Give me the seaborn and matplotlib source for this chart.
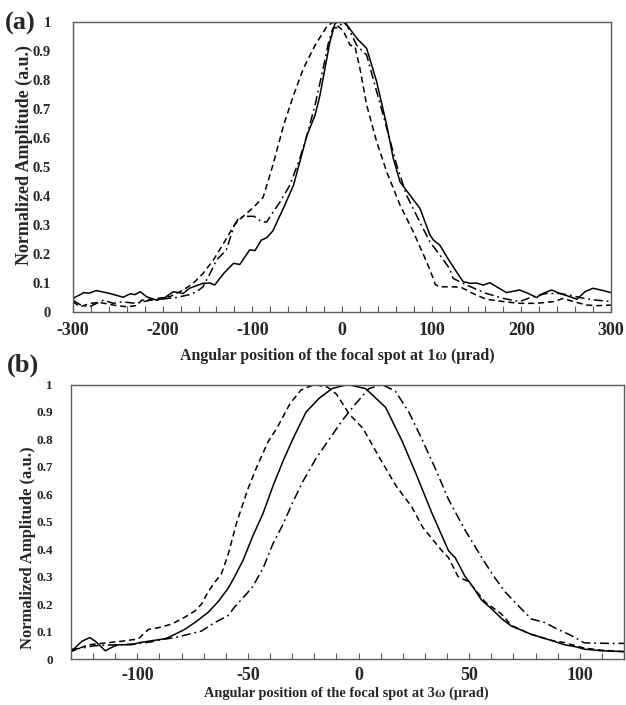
import numpy as np
import pandas as pd
import matplotlib
matplotlib.use("Agg")
import matplotlib.pyplot as plt
import seaborn as sns
from matplotlib.ticker import MultipleLocator, FuncFormatter

# ---------------- Panel (a): focal spot at 1 omega ----------------
a_solid_x = [-300, -292, -288, -282, -274, -259, -244, -236, -231, -225, -218, -207, -199,
             -188, -177, -170, -155, -147, -142, -132, -121, -114, -103, -97, -90, -84,
             -77, -69, -65, -54, -47, -39, -30, -24.5, -19, -13.4, -7.8, -4,
             1.4, 7, 16.4, 27.5, 38.7, 49.8, 57.2, 64.7, 75.8, 87, 98, 102, 109, 117, 124,
             135, 143, 150, 157.5, 165, 172.5, 183.6, 198, 207, 217, 224, 234, 243, 254,
             262, 271, 280, 290, 300]
a_solid_y = [0.047, 0.06, 0.067, 0.065, 0.074, 0.064, 0.051, 0.063, 0.06, 0.07, 0.053, 0.041,
             0.047, 0.07, 0.064, 0.082, 0.099, 0.1, 0.093, 0.133, 0.168, 0.164, 0.214,
             0.212, 0.248, 0.256, 0.28, 0.334, 0.36, 0.438, 0.518, 0.61, 0.679, 0.748, 0.84,
             0.932, 0.995, 1.0, 1.0, 0.984, 0.944, 0.909, 0.794, 0.645, 0.53, 0.449, 0.403,
             0.357, 0.266, 0.248, 0.231, 0.19, 0.156, 0.105, 0.099, 0.1, 0.093, 0.101,
             0.087, 0.067, 0.076, 0.065, 0.05, 0.064, 0.076, 0.064, 0.053, 0.044, 0.07,
             0.082, 0.075, 0.067]

a_dash_x = [-300, -292, -281, -270, -255, -240, -230, -223, -210, -192, -177, -166, -155,
            -143.5, -132, -120, -114, -99, -88, -77, -65, -54, -43, -30, -17, -10,
            1.4, 9, 14.5, 20, 27.5, 38.7, 49.8, 64.7, 79.5, 94.4, 101.8, 104, 109, 124,
            133, 146, 161, 180, 198, 217, 236, 247, 258, 273, 285, 300]
a_dash_y = [0.035, 0.018, 0.03, 0.033, 0.024, 0.018, 0.022, 0.041, 0.045, 0.053, 0.076,
            0.099, 0.133, 0.179, 0.237, 0.3, 0.32, 0.36, 0.395, 0.507, 0.645, 0.748, 0.84,
            0.92, 0.984, 1.0, 0.97, 0.92, 0.915, 0.84, 0.714, 0.587, 0.484, 0.369, 0.277,
            0.173, 0.116, 0.095, 0.087, 0.087, 0.085, 0.064, 0.044, 0.036, 0.03, 0.03,
            0.036, 0.047, 0.036, 0.024, 0.022, 0.024]

a_dot_x = [-300, -290, -282, -266, -255, -245, -230, -215, -200, -185, -170, -162, -155,
           -147, -140, -129, -120, -115, -106, -98, -90, -84, -80, -69, -58, -47, -39, -30,
           -21, -15, -10, -6, 0, 4, 10, 16.4, 27.5, 38.7, 48, 61, 72, 83, 98, 109, 120,
           124, 139, 161, 180, 198, 213, 228, 243, 254, 270, 284, 300]
a_dot_y = [0.04, 0.022, 0.018, 0.041, 0.03, 0.035, 0.03, 0.04, 0.045, 0.05, 0.06, 0.07,
           0.087, 0.134, 0.179, 0.214, 0.3, 0.325, 0.33, 0.33, 0.312, 0.31, 0.33, 0.38,
           0.438, 0.53, 0.61, 0.714, 0.84, 0.93, 0.98, 0.98, 0.995, 1.0, 0.96, 0.92, 0.886,
           0.76, 0.656, 0.507, 0.403, 0.334, 0.242, 0.197, 0.15, 0.116, 0.093, 0.064, 0.047,
           0.036, 0.053, 0.064, 0.064, 0.058, 0.047, 0.041, 0.036]

# ---------------- Panel (b): focal spot at 3 omega ----------------
b_solid_x = [-130, -125, -121.5, -119, -114.5, -111, -108.5, -102.6, -99, -95, -90.6, -87,
             -83, -78.6, -74, -68, -63.6, -59, -56.7, -52.2, -47.7, -43.2, -38.7, -34.2,
             -29.8, -23.7, -17.8, -12, -5, 3.2, 12.2, 19.7, 25.7, 33.2, 40.7, 43.7, 48.2,
             51.1, 55.6, 60.1, 65, 69.1, 78.1, 87.1, 93.1, 98, 102, 110, 120]
b_solid_y = [0.027, 0.065, 0.078, 0.065, 0.03, 0.045, 0.052, 0.052, 0.06, 0.065, 0.07,
             0.075, 0.09, 0.108, 0.133, 0.17, 0.208, 0.257, 0.29, 0.36, 0.45, 0.53, 0.63,
             0.72, 0.8, 0.9, 0.95, 0.985, 1.0, 0.985, 0.917, 0.794, 0.68, 0.531, 0.394,
             0.369, 0.3, 0.27, 0.215, 0.183, 0.145, 0.12, 0.09, 0.068, 0.052, 0.045, 0.036,
             0.03, 0.027]

b_dash_x = [-130, -126, -122, -107, -99.6, -95, -90.6, -84.6, -78.6, -74, -71, -68, -65,
            -62, -59, -55, -50, -46, -41, -37, -31, -26, -20, -14, -10, -4.3,
            2, 9, 17, 24, 29, 37.7, 40.7, 45, 49.7, 53, 57.2, 64.6, 69, 78, 87, 93, 102,
            110, 120]
b_dash_y = [0.027, 0.04, 0.052, 0.065, 0.073, 0.108, 0.114, 0.127, 0.152, 0.175, 0.2,
            0.245, 0.28, 0.31, 0.38, 0.5, 0.62, 0.7, 0.79, 0.84, 0.93, 0.98, 1.0, 0.99,
            0.965, 0.893, 0.84, 0.74, 0.63, 0.555, 0.48, 0.394, 0.369, 0.3, 0.282, 0.25,
            0.208, 0.164, 0.123, 0.09, 0.068, 0.06, 0.04, 0.032, 0.027]

b_dot_x = [-130, -125, -120, -110, -101, -94, -89, -83, -77, -71, -65, -59, -56, -52, -48,
           -43.2, -38.7, -34.2, -29.8, -25.3, -19.3, -13.3, -7.3, -1.3, 4.7, 10.7, 16.7,
           22.7, 28.7, 34.7, 40.7, 48.2, 56.4, 61.7, 66.2, 72.1, 78.1, 84.1, 90.1, 96.1,
           102, 108, 113, 120]
b_dot_y = [0.035, 0.04, 0.048, 0.052, 0.055, 0.062, 0.071, 0.078, 0.09, 0.102, 0.133,
           0.158, 0.19, 0.225, 0.262, 0.33, 0.42, 0.49, 0.57, 0.645, 0.73, 0.8, 0.87, 0.93,
           0.985, 1.0, 0.975, 0.9, 0.8, 0.694, 0.581, 0.469, 0.36, 0.295, 0.245, 0.195,
           0.146, 0.133, 0.108, 0.086, 0.059, 0.058, 0.057, 0.057]

a_xlabel = "Angular position of the focal spot at 1\u03c9 (\u03bcrad)"
b_xlabel = "Angular position of the focal spot at 3\u03c9 (\u03bcrad)"
ylabel = "Normalized Amplitude (a.u.)"

# ---------------- Style ----------------
sns.set_theme(style="white")
plt.rcParams["font.family"] = ["Liberation Serif", "DejaVu Serif"]
plt.rcParams["font.weight"] = "bold"
plt.rcParams["axes.labelweight"] = "bold"
plt.rcParams["axes.unicode_minus"] = False

SOLID = "-"
DASH = (0, (4, 2.5))
DOT = (0, (6, 2.5, 1.2, 2.5))
SPINE = "#5a5a5a"

fig = plt.figure(figsize=(6.26, 7.05), dpi=100)
axa = fig.add_axes([0.1166, 0.5574, 0.8594, 0.4114])
axb = fig.add_axes([0.1134, 0.0652, 0.8834, 0.3894])

for ax, series in [
    (axa, [(a_solid_x, a_solid_y, SOLID), (a_dash_x, a_dash_y, DASH), (a_dot_x, a_dot_y, DOT)]),
    (axb, [(b_solid_x, b_solid_y, SOLID), (b_dash_x, b_dash_y, DASH), (b_dot_x, b_dot_y, DOT)]),
]:
    for xs, ys, ls in series:
        sns.lineplot(x=xs, y=ys, ax=ax, color="black", lw=1.1, linestyle=ls,
                     sort=False, estimator=None)

fmt = FuncFormatter(lambda v, p: "%g" % round(v, 2))

# Panel (a) axes
axa.set_xlim(-300, 300)
axa.set_ylim(0, 1)
axa.xaxis.set_major_locator(MultipleLocator(100))
axa.xaxis.set_minor_locator(MultipleLocator(20))
axa.yaxis.set_major_locator(MultipleLocator(0.1))
axa.yaxis.set_major_formatter(fmt)
axa.tick_params(axis="x", which="both", direction="in", length=4, width=0.8, color=SPINE,
                bottom=True, top=False, pad=7, labelsize=13)
axa.tick_params(axis="y", which="both", length=0, pad=16, labelsize=10.5)
axa.set_xlabel(a_xlabel, fontsize=11.4, fontweight="bold")
axa.set_ylabel(ylabel, fontsize=13, fontweight="bold")
axa.xaxis.set_label_coords(0.4916, -0.124)
axa.yaxis.set_label_coords(-0.074, 0.541)

# Panel (b) axes
axb.set_xlim(-130, 120)
axb.set_ylim(0, 1)
axb.xaxis.set_major_locator(MultipleLocator(50))
axb.xaxis.set_minor_locator(MultipleLocator(10))
axb.yaxis.set_major_locator(MultipleLocator(0.1))
axb.yaxis.set_major_formatter(fmt)
axb.tick_params(axis="x", which="both", direction="in", length=4, width=0.8, color=SPINE,
                bottom=True, top=False, pad=6, labelsize=13)
axb.tick_params(axis="y", which="both", length=0, pad=13, labelsize=9.5)
axb.set_xlabel(b_xlabel, fontsize=10.4, fontweight="bold")
axb.set_ylabel(ylabel, fontsize=12, fontweight="bold")
axb.xaxis.set_label_coords(0.498, -0.1)
axb.yaxis.set_label_coords(-0.063, 0.407)

for ax in (axa, axb):
    for s in ax.spines.values():
        s.set_color(SPINE)
        s.set_linewidth(1.0)
        s.set_visible(True)

fig.text(0.008, 0.967, "(a)", fontsize=19, fontweight="bold", va="center", ha="left")
fig.text(0.011, 0.482, "(b)", fontsize=19, fontweight="bold", va="center", ha="left")

fig.savefig("out.png", dpi=100)
